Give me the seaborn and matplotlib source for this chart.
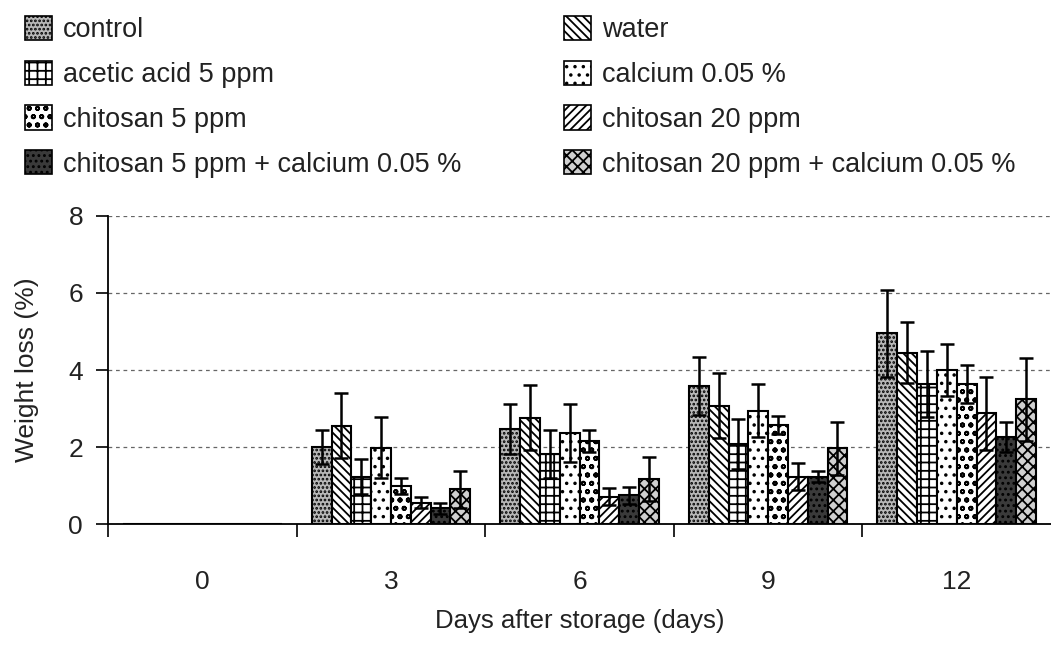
import numpy as np
import pandas as pd
import seaborn as sns
import matplotlib
matplotlib.use("Agg")
import matplotlib.pyplot as plt
from matplotlib.patches import Patch

# storage days (categories)
days = ["0", "3", "6", "9", "12"]

treatments = [
    "control",
    "water",
    "acetic acid 5 ppm",
    "calcium 0.05 %",
    "chitosan 5 ppm",
    "chitosan 20 ppm",
    "chitosan 5 ppm + calcium 0.05 %",
    "chitosan 20 ppm + calcium 0.05 %",
]

# mean weight loss (%) per treatment, one value per day
control = [0.0, 2.00, 2.47, 3.58, 4.95]
water = [0.0, 2.55, 2.76, 3.07, 4.45]
acetic_5 = [0.0, 1.23, 1.82, 2.07, 3.64]
calcium_005 = [0.0, 1.98, 2.36, 2.94, 4.00]
chitosan_5 = [0.0, 0.99, 2.16, 2.57, 3.64]
chitosan_20 = [0.0, 0.55, 0.71, 1.23, 2.88]
chitosan_5_ca = [0.0, 0.41, 0.75, 1.23, 2.27]
chitosan_20_ca = [0.0, 0.90, 1.16, 1.97, 3.24]

# standard deviations
control_sd = [0.0, 0.44, 0.65, 0.75, 1.13]
water_sd = [0.0, 0.84, 0.85, 0.84, 0.79]
acetic_5_sd = [0.0, 0.46, 0.62, 0.65, 0.86]
calcium_005_sd = [0.0, 0.79, 0.75, 0.69, 0.68]
chitosan_5_sd = [0.0, 0.20, 0.28, 0.24, 0.49]
chitosan_20_sd = [0.0, 0.14, 0.22, 0.35, 0.95]
chitosan_5_ca_sd = [0.0, 0.14, 0.22, 0.15, 0.39]
chitosan_20_ca_sd = [0.0, 0.48, 0.57, 0.69, 1.08]

means = [control, water, acetic_5, calcium_005, chitosan_5, chitosan_20,
         chitosan_5_ca, chitosan_20_ca]
sds = [control_sd, water_sd, acetic_5_sd, calcium_005_sd, chitosan_5_sd,
       chitosan_20_sd, chitosan_5_ca_sd, chitosan_20_ca_sd]

# fill / hatch for each treatment (monochrome print style)
faces = ["#b8b8b8", "white", "white", "white", "white", "white", "#3a3a3a", "#d0d0d0"]
hatches = ["....", "\\\\\\\\", "++", "..", "oo", "////", "...", "xxx"]

rows = []
for t, m in zip(treatments, means):
    for d, v in zip(days, m):
        rows.append({"day": d, "treatment": t, "loss": v})
df = pd.DataFrame(rows)

sns.set_theme(style="white")
plt.rcParams["font.family"] = ["Liberation Sans", "DejaVu Sans"]
plt.rcParams["hatch.linewidth"] = 1.3
text_color = "#222222"

fig = plt.figure(figsize=(10.51, 6.65), dpi=100)
ax = fig.add_axes([0.1028, 0.212, 0.8972, 0.4632])

sns.barplot(data=df, x="day", y="loss", hue="treatment", order=days,
            hue_order=treatments, errorbar=None, width=0.84, gap=0,
            dodge=True, legend=False, ax=ax, zorder=2)

bar_containers = list(ax.containers)
for k, cont in enumerate(bar_containers):
    xs, ys, es = [], [], []
    for j, bar in enumerate(cont.patches):
        bar.set_facecolor(faces[k])
        bar.set_edgecolor("black")
        bar.set_linewidth(1.5)
        bar.set_hatch(hatches[k])
        if sds[k][j] > 0:
            xs.append(bar.get_x() + bar.get_width() / 2)
            ys.append(means[k][j])
            es.append(sds[k][j])
    ax.errorbar(xs, ys, yerr=es, fmt="none", ecolor="black", elinewidth=1.8,
                capsize=5, capthick=1.8, zorder=3)

ax.set_xlim(-0.5, 4.5)
ax.set_ylim(0, 8)
ax.set_yticks([0, 2, 4, 6, 8])
ax.set_xticks(range(len(days)))
ax.set_xticklabels(days)
ax.set_xticks([-0.5, 0.5, 1.5, 2.5, 3.5], minor=True)
ax.tick_params(axis="x", which="major", length=0, pad=33, labelsize=19,
               labelcolor=text_color)
ax.tick_params(axis="x", which="minor", length=9, width=1.2, direction="out",
               color="black", bottom=True)
ax.tick_params(axis="y", length=9, width=1.2, direction="out", pad=9,
               labelsize=19, labelcolor=text_color, color="black", left=True)

ax.yaxis.grid(True, linestyle=(0, (3, 3)), color="#666666", linewidth=0.9)
ax.xaxis.grid(False)
ax.set_axisbelow(True)
for side in ["top", "right"]:
    ax.spines[side].set_visible(False)
for side in ["left", "bottom"]:
    ax.spines[side].set_color("black")
    ax.spines[side].set_linewidth(1.3)

ax.set_xlabel("Days after storage (days)", fontsize=18.5, color=text_color, labelpad=11)
ax.set_ylabel("Weight loss (%)", fontsize=19, color=text_color, labelpad=21)

handles = [Patch(facecolor=f, edgecolor="black", hatch=h, linewidth=1.2)
           for f, h in zip(faces, hatches)]
order = [0, 2, 4, 6, 1, 3, 5, 7]
fig.legend([handles[i] for i in order], [treatments[i] for i in order],
           ncol=2, loc="upper left", bbox_to_anchor=(25 / 1051, 1 - 16 / 665),
           frameon=False, fontsize=19.5, handlelength=1.0, handleheight=1.0,
           handletextpad=0.4, labelspacing=0.64, columnspacing=3.8,
           borderpad=0, borderaxespad=0, labelcolor=text_color)

fig.savefig("out.png", dpi=100)
